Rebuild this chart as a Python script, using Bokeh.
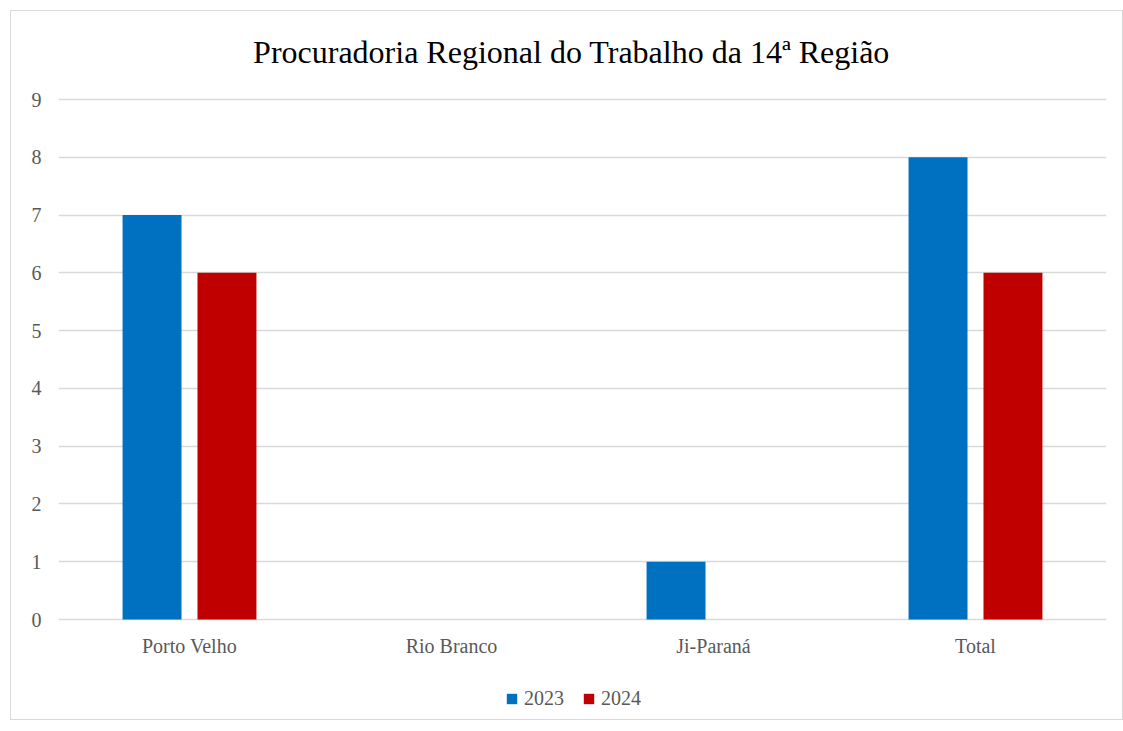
from bokeh.plotting import figure
from bokeh.models import ColumnDataSource, Legend, LegendItem, Label, Range1d
from bokeh.transform import dodge
from bokeh.embed import file_html
from bokeh.resources import INLINE

categories = ["Porto Velho", "Rio Branco", "Ji-Paraná", "Total"]
values_2023 = [7, 0, 1, 8]
values_2024 = [6, 0, 0, 6]
series_names = ["2023", "2024"]
title_text = "Procuradoria Regional do Trabalho da 14ª Região"
y_ticks = [0, 1, 2, 3, 4, 5, 6, 7, 8, 9]

FONT = "Liberation Serif"
LABEL_COLOR = "#595959"

source = ColumnDataSource(data=dict(cat=categories, y2023=values_2023, y2024=values_2024))

# frame spans the whole inner box; the value axis 0..9 occupies the middle part
p = figure(
    x_range=categories, y_range=Range1d(-1.7308, 10.385),
    frame_width=1048, frame_height=700,
    output_backend="svg", toolbar_location=None,
    min_border_left=47, min_border_right=16, min_border_top=8, min_border_bottom=0,
)
p.title = None
p.styles = {"border": "1px solid #d9d9d9", "box-sizing": "border-box",
            "margin-left": "10px", "margin-top": "10px"}
p.outline_line_color = None
p.background_fill_color = "white"
p.border_fill_color = "white"

title = Label(x=513, y=668, x_units="screen", y_units="screen", text=title_text,
              text_align="center", text_baseline="middle", text_font=FONT,
              text_font_size="32px", text_color="#000000")
p.add_layout(title)

r1 = p.vbar(x=dodge("cat", -0.143, range=p.x_range), top="y2023", bottom=0, width=0.225,
            source=source, fill_color="#0070C0", line_color=None)
r2 = p.vbar(x=dodge("cat", 0.143, range=p.x_range), top="y2024", bottom=0, width=0.225,
            source=source, fill_color="#C00000", line_color=None)

p.xgrid.grid_line_color = None
p.ygrid.grid_line_color = "#d9d9d9"
p.ygrid.grid_line_width = 1.5
p.yaxis.ticker = y_ticks
p.xaxis.fixed_location = 0

for ax in (p.xaxis[0], p.yaxis[0]):
    ax.axis_line_color = None
    ax.major_tick_line_color = None
    ax.minor_tick_line_color = None
    ax.major_label_text_font = FONT
    ax.major_label_text_font_size = "20px"
    ax.major_label_text_color = LABEL_COLOR
p.yaxis.major_label_standoff = 11
p.xaxis.major_label_standoff = 9

legend = Legend(items=[LegendItem(label=series_names[0], renderers=[r1]),
                       LegendItem(label=series_names[1], renderers=[r2])],
                orientation="horizontal", location=(447, 9),
                label_text_font=FONT, label_text_font_size="20px",
                label_text_color=LABEL_COLOR,
                glyph_width=13, glyph_height=13, spacing=18, label_standoff=6,
                border_line_color=None, background_fill_alpha=0,
                margin=0, padding=2)
p.add_layout(legend, "center")

open("out.html", "w").write(file_html(p, INLINE))
